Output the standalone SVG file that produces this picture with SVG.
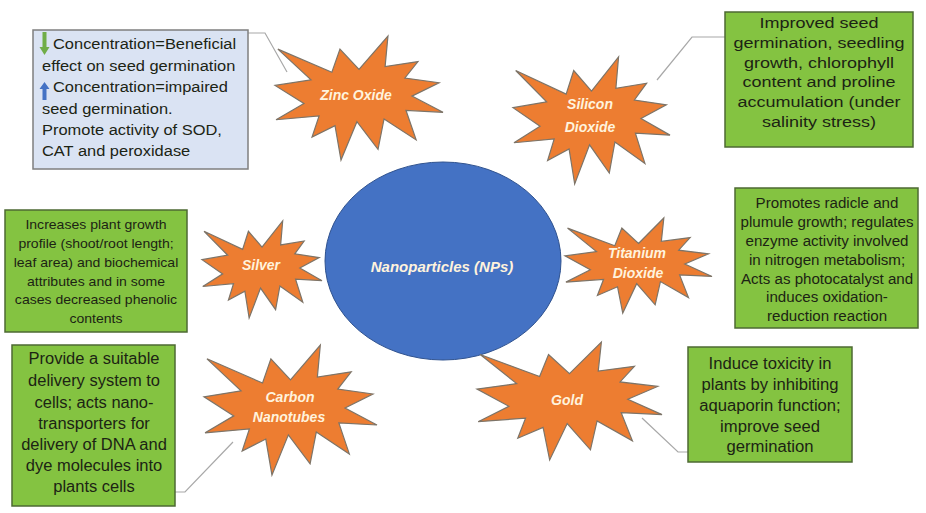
<svg xmlns="http://www.w3.org/2000/svg" xmlns:xlink="http://www.w3.org/1999/xlink" width="926" height="513" viewBox="0 0 926 513">
<style>
.bg{fill:#ffffff}
.gbox{fill:#84C341;stroke:#4d6a33;stroke-width:1.5}
.bbox{fill:#DAE3F3;stroke:#7f7f7f;stroke-width:1.5}
.star{fill:#ED7D31;stroke:#7d7468;stroke-width:1.2}
.t{font-family:"Liberation Sans",Arial,sans-serif;fill:#1c2414}
.c{text-anchor:middle}
.st{font-family:"Liberation Sans",Arial,sans-serif;font-weight:bold;font-style:italic;fill:#FFF3DD;text-anchor:middle;font-size:14px}
.conn{fill:none;stroke:#a8a8a8;stroke-width:1.2}
</style>
<defs>
<path id="seal" vector-effect="non-scaling-stroke" d="M10800,5800 L14522,0 L14155,5325 L18380,4457 L16702,7315 L21097,8137 L17607,10475 L21600,13290 L16837,12942 L18145,18095 L14020,14457 L13247,19737 L10532,14935 L8485,21600 L7715,15627 L4762,17617 L5667,13937 L135,14587 L3722,11775 L0,8615 L4627,7617 L370,2295 L7312,6320 L8352,2295 Z"/>
</defs>
<rect class="bg" x="0" y="0" width="926" height="513"/>

<g id="connectors">
<polyline class="conn" points="248,33 265,33 287,72"/>
<polyline class="conn" points="657,80 692,37 725,37"/>
<polyline class="conn" points="175,492 185,492 233,442"/>
<polyline class="conn" points="642,418 678,452 688,452"/>
</g>

<g id="node-center">
<ellipse cx="443" cy="261" rx="118" ry="99" fill="#4472C4" stroke="#2F528F" stroke-width="1"/>
<text class="st" x="442" y="272" style="font-size:15px">Nanoparticles (NPs)</text>
</g>

<g id="node-zinc-oxide">
<use href="#seal" class="star" transform="translate(275,36) scale(0.007778,0.005741)"/>
<text class="st" x="356" y="100">Zinc Oxide</text>
</g>

<g id="node-silicon-dioxide">
<use href="#seal" class="star" transform="translate(513,57) scale(0.007269,0.00588)"/>
<text class="st" x="590" y="109">Silicon</text>
<text class="st" x="590" y="132">Dioxide</text>
</g>

<g id="node-silver">
<use href="#seal" class="star" transform="translate(202,221) scale(0.005556,0.004491)"/>
<text class="st" x="261" y="270">Silver</text>
</g>

<g id="node-titanium-dioxide">
<use href="#seal" class="star" transform="translate(565,218) scale(0.006806,0.004398)"/>
<text class="st" x="637" y="258">Titanium</text>
<text class="st" x="638" y="278">Dioxide</text>
</g>

<g id="node-carbon-nanotubes">
<use href="#seal" class="star" transform="translate(204,345) scale(0.008009,0.006019)"/>
<text class="st" x="290" y="402">Carbon</text>
<text class="st" x="289" y="422">Nanotubes</text>
</g>

<g id="node-gold">
<use href="#seal" class="star" transform="translate(477,342) scale(0.008565,0.005463)"/>
<text class="st" x="567" y="405">Gold</text>
</g>

<g id="node-zinc-box">
<rect class="bbox" x="33" y="30" width="215" height="139"/>
<path d="M42.5,32 h4 v15 h3 l-5,8 l-5,-8 h3 z" fill="#70AD47"/>
<path d="M44.5,82 l5,7 h-3 v11 h-4 v-11 h-3 z" fill="#4472C4"/>
<g transform="translate(42,0) scale(1.06,1)" class="t" style="font-size:15.5px">
<text x="10.4" y="49">Concentration=Beneficial</text>
<text x="0" y="71">effect on seed germination</text>
<text x="10.4" y="92">Concentration=impaired</text>
<text x="0" y="114">seed germination.</text>
<text x="0" y="135">Promote activity of SOD,</text>
<text x="0" y="156">CAT and peroxidase</text>
</g>
</g>

<g id="node-silicon-box">
<rect class="gbox" x="725" y="12" width="188" height="135"/>
<g transform="translate(819,0) scale(1.2,1)" class="t c" style="font-size:15px">
<text x="0" y="28">Improved seed</text>
<text x="0" y="48">germination, seedling</text>
<text x="0" y="68">growth, chlorophyll</text>
<text x="0" y="87">content and proline</text>
<text x="0" y="107">accumulation (under</text>
<text x="0" y="127">salinity stress)</text>
</g>
</g>

<g id="node-silver-box">
<rect class="gbox" x="5" y="210" width="182" height="122"/>
<g transform="translate(96,0) scale(1.04,1)" class="t c" style="font-size:13.5px">
<text x="0" y="229">Increases plant growth</text>
<text x="0" y="248">profile (shoot/root length;</text>
<text x="0" y="267">leaf area) and biochemical</text>
<text x="0" y="286">attributes and in some</text>
<text x="0" y="304">cases decreased phenolic</text>
<text x="0" y="323">contents</text>
</g>
</g>

<g id="node-titanium-box">
<rect class="gbox" x="735" y="188" width="183" height="140"/>
<g transform="translate(827,0) scale(1.08,1)" class="t c" style="font-size:14px">
<text x="0" y="208">Promotes radicle and</text>
<text x="0" y="227">plumule growth; regulates</text>
<text x="0" y="246">enzyme activity involved</text>
<text x="0" y="265">in nitrogen metabolism;</text>
<text x="0" y="284">Acts as photocatalyst and</text>
<text x="0" y="302">induces oxidation-</text>
<text x="0" y="321">reduction reaction</text>
</g>
</g>

<g id="node-carbon-box">
<rect class="gbox" x="12" y="345" width="163" height="161"/>
<g transform="translate(94,0) scale(1.03,1)" class="t c" style="font-size:16px">
<text x="0" y="364">Provide a suitable</text>
<text x="0" y="386">delivery system to</text>
<text x="0" y="408">cells; acts nano-</text>
<text x="0" y="429">transporters for</text>
<text x="0" y="450">delivery of DNA and</text>
<text x="0" y="471">dye molecules into</text>
<text x="0" y="492">plants cells</text>
</g>
</g>

<g id="node-gold-box">
<rect class="gbox" x="688" y="347" width="164" height="115"/>
<g transform="translate(770,0) scale(1.04,1)" class="t c" style="font-size:16px">
<text x="0" y="369">Induce toxicity in</text>
<text x="0" y="390">plants by inhibiting</text>
<text x="0" y="411">aquaporin function;</text>
<text x="0" y="432">improve seed</text>
<text x="0" y="452">germination</text>
</g>
</g>
</svg>
